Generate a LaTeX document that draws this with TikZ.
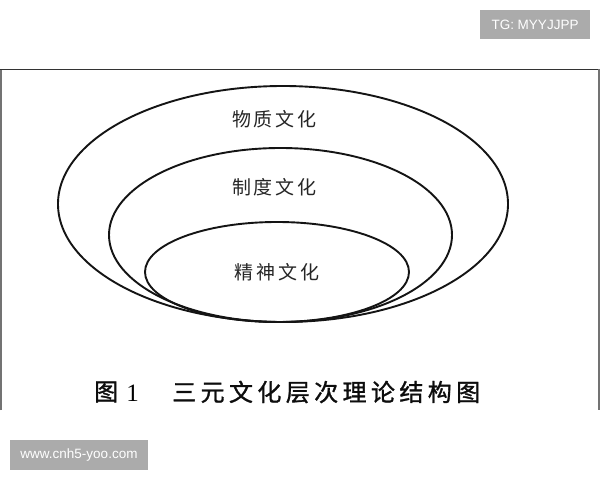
\documentclass[tikz,border=0pt]{standalone}
\usepackage{fontspec}
\setmainfont{Liberation Serif}
\newfontfamily\cjk{Noto Sans CJK SC}
\newfontfamily\cjkcap[FakeBold=1.2]{Noto Sans CJK SC}
\newfontfamily\wmfont{Liberation Sans}
\begin{document}
\begin{tikzpicture}[x=1bp,y=-1bp,
  ring/.style={draw=black!92, line width=1.9bp},
  lbl/.style={font=\cjk\fontsize{19bp}{19bp}\selectfont, text=black!85, inner sep=0pt},
  captxt/.style={font=\cjkcap\fontsize{24bp}{24bp}\selectfont, text=black!95, inner sep=0pt},
  wmbox/.style={fill=black!33, text=white, inner sep=0pt, font=\wmfont\fontsize{13.5bp}{13.5bp}\selectfont}]
\useasboundingbox (0,0) rectangle (600,480);
\fill[white] (0,0) rectangle (600,480);
% frame of the scanned figure
\draw[black!55, line width=1.5bp] (1,410) -- (1,69.5);
\draw[black!80, line width=1.5bp] (0,69.5) -- (599,69.5);
\draw[black!55, line width=1.5bp] (599,69.5) -- (599,410);
% nested ellipses
\draw[ring] (283,204) ellipse [x radius=225, y radius=118];
\draw[ring] (280.5,235) ellipse [x radius=171.5, y radius=87];
\draw[ring] (277,272) ellipse [x radius=132, y radius=50];
% labels
\node[lbl] (wuzhi) at (274.5,119) {物\kern3bp 质\kern3bp 文\kern3bp 化};
\node[lbl] (zhidu) at (274.5,187) {制\kern3bp 度\kern3bp 文\kern3bp 化};
\node[lbl] (jingshen) at (277,272) {精\kern3bp 神\kern3bp 文\kern3bp 化};
% caption
\node[captxt, anchor=west] (figword) at (94,392) {图};
\node[inner sep=0pt, font=\rmfamily\fontsize{25bp}{25bp}\selectfont] (fignum) at (132.5,393) {1};
\node[captxt, anchor=west] (title) at (172,392) {三\kern4.4bp 元\kern4.4bp 文\kern4.4bp 化\kern4.4bp 层\kern4.4bp 次\kern4.4bp 理\kern4.4bp 论\kern4.4bp 结\kern4.4bp 构\kern4.4bp 图};
% watermark boxes
\node[wmbox, minimum width=110bp, minimum height=29bp] (tg) at (535,24.5) {TG: MYYJJPP};
\node[wmbox, minimum width=138bp, minimum height=30bp] (www) at (79,455) {www.cnh5-yoo.com};
\end{tikzpicture}
\end{document}
